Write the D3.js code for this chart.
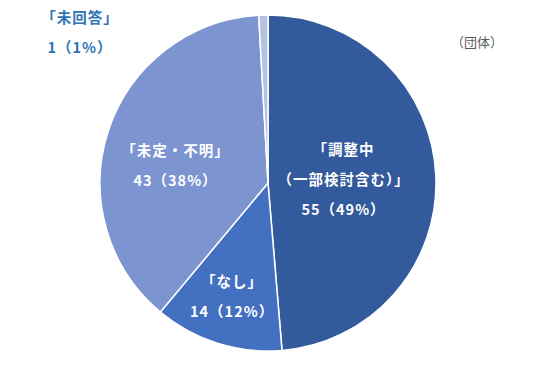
<!DOCTYPE html>
<html>
<head>
<meta charset="utf-8">
<script src="https://cdn.jsdelivr.net/npm/d3@7"></script>
<style>
  body { margin: 0; background: #fff; }
  text { font-family: "Noto Sans CJK JP", "Noto Sans", sans-serif; }
</style>
</head>
<body>
<script>
const width = 536;
const height = 365;

// data
const categories = ["調整中", "なし", "未定・不明", "未回答"];
const labelNames = [["「調整中", "（一部検討含む）」"], ["「なし」"], ["「未定・不明」"], ["「未回答」"]];
const values = [55, 14, 43, 1];
const colors = ["#325a9c", "#4470c2", "#7c94d0", "#b4c3e4"];
const unitLabel = "（団体）";

const cx = 268, cy = 183, radius = 168;
const total = d3.sum(values);

// label placement: fraction of radius along mid angle + small nudge
const labelLayout = [
  {r: 0.45, dx: 0, dy: 0, color: "#fff"},
  {r: 0.71, dx: 0, dy: 0, color: "#fff"},
  {r: 0.58, dx: 0, dy: 14, color: "#fff"},
  {outside: true, x: 80, y: 33, color: "#2e74b5"}
];

const svg = d3.select("body").append("svg")
  .attr("width", width)
  .attr("height", height);

const pie = d3.pie().sort(null).value(d => d)(values);
const arc = d3.arc().innerRadius(0).outerRadius(radius);

const g = svg.append("g").attr("transform", `translate(${cx},${cy})`);

g.selectAll("path.slice")
  .data(pie)
  .join("path")
  .attr("class", "slice")
  .attr("d", arc)
  .attr("fill", (d, i) => colors[i])
  .attr("stroke", "#fff")
  .attr("stroke-width", 1.5);

const pct = v => Math.round(v / total * 100);

pie.forEach((d, i) => {
  const lay = labelLayout[i];
  const lines = labelNames[i].concat([`${values[i]}（${pct(values[i])}%）`]);
  let x, y;
  if (lay.outside) {
    x = lay.x - cx; y = lay.y - cy;
  } else {
    const a = (d.startAngle + d.endAngle) / 2;
    x = Math.sin(a) * radius * lay.r + lay.dx;
    y = -Math.cos(a) * radius * lay.r + lay.dy;
  }
  const lh = 30;
  const t = g.append("text")
    .attr("text-anchor", "middle")
    .attr("font-size", 14.5)
    .attr("font-weight", "bold")
    .attr("letter-spacing", 1)
    .attr("fill", lay.color);
  lines.forEach((ln, k) => {
    t.append("tspan")
      .attr("x", x)
      .attr("y", y + (k - (lines.length - 1) / 2) * lh)
      .attr("dy", "0.35em")
      .text(ln);
  });
});

svg.append("text")
  .attr("x", 477)
  .attr("y", 42)
  .attr("dy", "0.35em")
  .attr("text-anchor", "middle")
  .attr("font-size", 13)
  .attr("fill", "#595959")
  .text(unitLabel);
</script>
</body>
</html>
